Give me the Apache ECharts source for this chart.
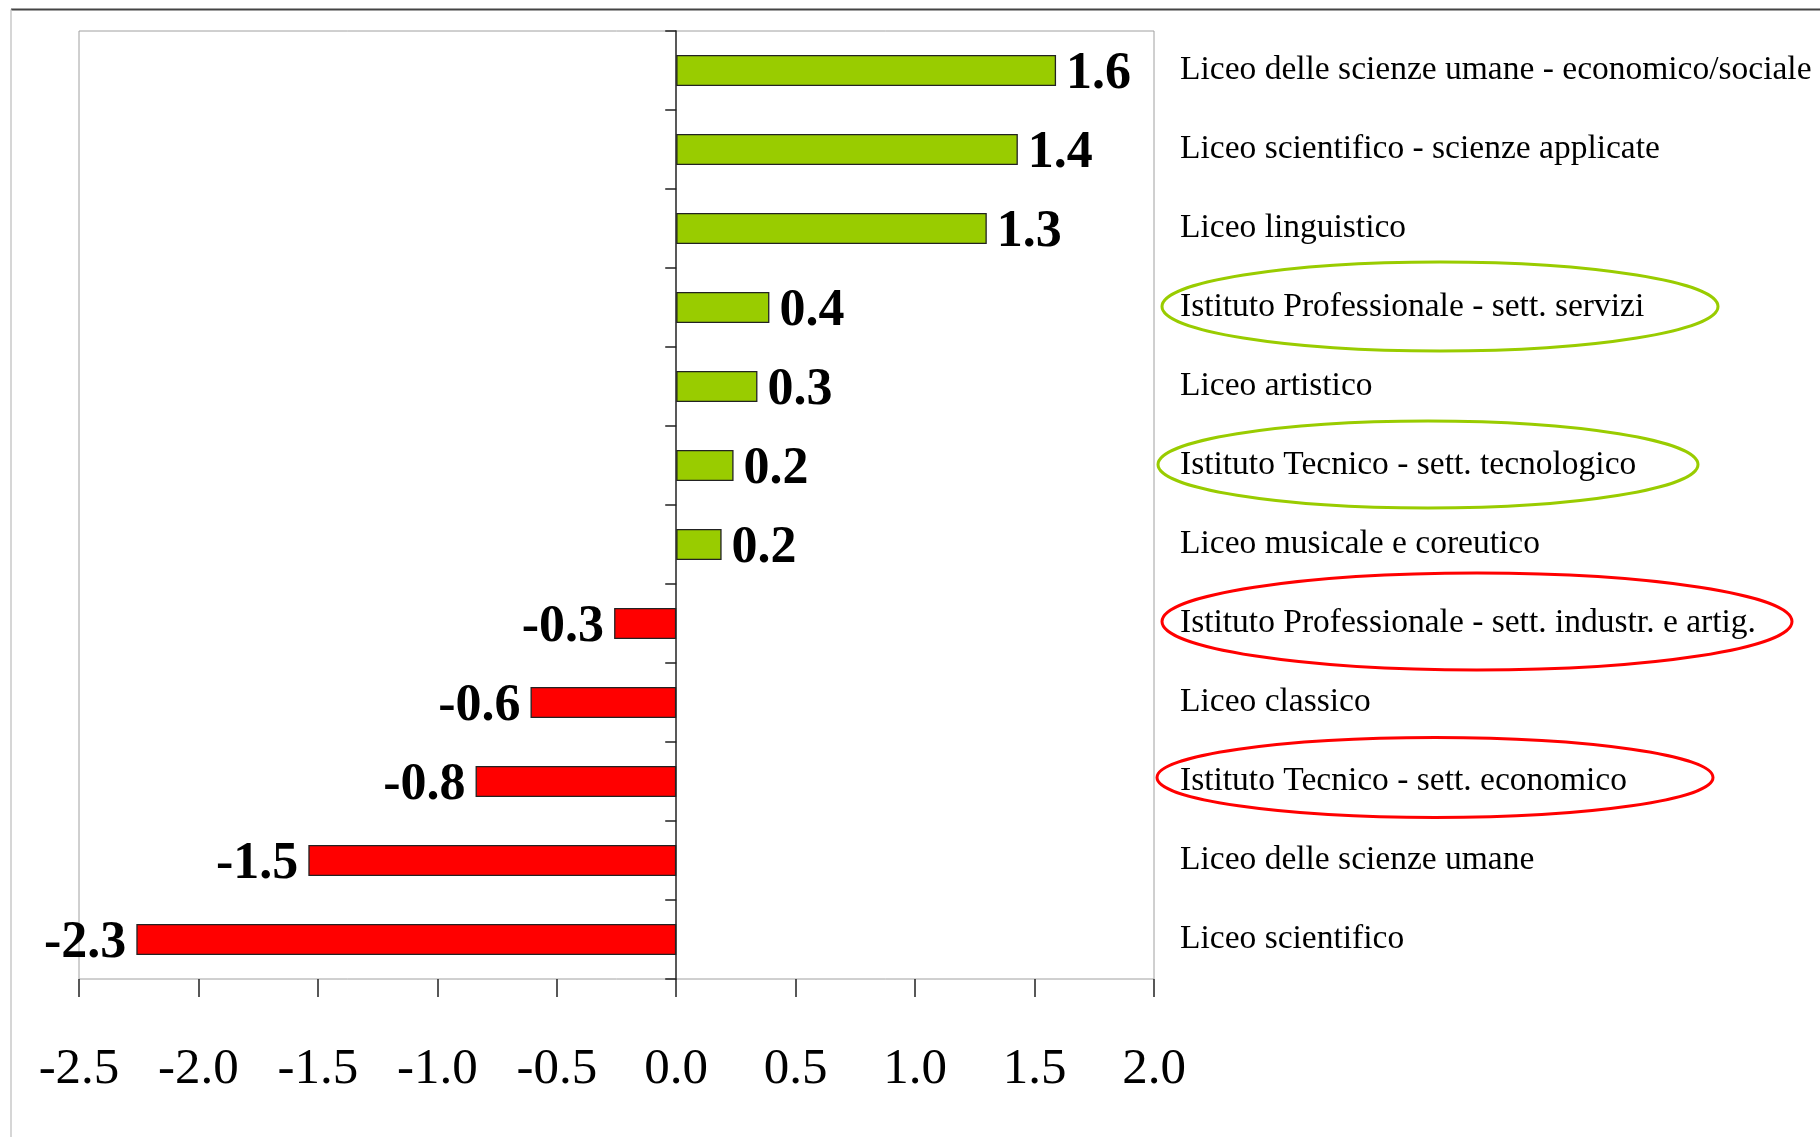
<!DOCTYPE html>
<html>
<head>
<meta charset="utf-8">
<script src="https://cdn.jsdelivr.net/npm/echarts@6/dist/echarts.min.js"></script>
<style>
html,body{margin:0;padding:0;background:#fff;}
#chart{width:1820px;height:1137px;}
</style>
</head>
<body>
<div id="chart"></div>
<script>
var categories = [
  'Liceo delle scienze umane - economico/sociale',
  'Liceo scientifico - scienze applicate',
  'Liceo linguistico',
  'Istituto Professionale - sett. servizi',
  'Liceo artistico',
  'Istituto Tecnico - sett. tecnologico',
  'Liceo musicale e coreutico',
  'Istituto Professionale - sett. industr. e artig.',
  'Liceo classico',
  'Istituto Tecnico - sett. economico',
  'Liceo delle scienze umane',
  'Liceo scientifico'
];
var values = [1.59, 1.43, 1.30, 0.39, 0.34, 0.24, 0.19, -0.26, -0.61, -0.84, -1.54, -2.26];
var xTicks = [-2.5, -2.0, -1.5, -1.0, -0.5, 0.0, 0.5, 1.0, 1.5, 2.0];
var highlightGreen = ['Istituto Professionale - sett. servizi', 'Istituto Tecnico - sett. tecnologico'];
var highlightRed = ['Istituto Professionale - sett. industr. e artig.', 'Istituto Tecnico - sett. economico'];

var GREEN = '#99cc00', RED = '#ff0000';
var FONT = '"Liberation Serif", "Times New Roman", serif';

var chart = echarts.init(document.getElementById('chart'), null, {renderer: 'canvas'});

var barData = values.map(function (v) {
  return {
    value: v,
    itemStyle: {color: v >= 0 ? GREEN : RED},
    label: {position: v >= 0 ? 'right' : 'left'}
  };
});

var option = {
  backgroundColor: '#ffffff',
  animation: false,
  grid: {
    left: 79, top: 31, width: 1075, height: 948,
    show: true, borderColor: '#a0a0a0', borderWidth: 1, backgroundColor: 'transparent'
  },
  xAxis: {
    type: 'value',
    min: xTicks[0], max: xTicks[xTicks.length - 1], interval: 0.5,
    position: 'bottom',
    axisLine: {onZero: false, lineStyle: {color: '#222', width: 2}},
    axisTick: {show: true, length: 18, lineStyle: {color: '#222', width: 1.5}},
    splitLine: {show: false},
    axisLabel: {
      margin: 65, fontFamily: FONT, fontSize: 51, color: '#000',
      formatter: function (v) { return v.toFixed(1); }
    }
  },
  yAxis: [{
    type: 'category', data: categories, inverse: true,
    axisLine: {onZero: true, lineStyle: {color: '#222', width: 1.5}},
    axisTick: {show: true, length: 11, inside: false, lineStyle: {color: '#222', width: 1.5}},
    axisLabel: {show: false},
    splitLine: {show: false}
  }, {
    type: 'category', data: categories, inverse: true, position: 'right',
    axisLine: {show: false}, axisTick: {show: false}, splitLine: {show: false},
    axisLabel: {margin: 26, fontFamily: FONT, fontSize: 33.5, color: '#000', align: 'left', padding: [9, 0, 0, 0]}
  }],
  series: [{
    type: 'bar',
    yAxisIndex: 0,
    data: barData,
    barWidth: 31,
    itemStyle: {borderColor: '#222', borderWidth: 1.3},
    label: {
      show: true, distance: 10, offset: [0, 4], fontFamily: FONT, fontSize: 52, fontWeight: 'bold', color: '#000',
      formatter: function (p) { return p.value.toFixed(1); }
    }
  }]
};
chart.setOption(option);

function ellipseFor(cat, color, cx, rx, ry, dy) {
  var cy = chart.convertToPixel({yAxisIndex: 1}, cat) + dy;
  return {
    type: 'ellipse', silent: true, z: 100,
    shape: {cx: cx, cy: cy, rx: rx, ry: ry},
    style: {fill: 'none', stroke: color, lineWidth: 3}
  };
}

var graphics = [
  {type: 'line', shape: {x1: 11, y1: 9.5, x2: 1820, y2: 9.5}, style: {stroke: '#444', lineWidth: 2}, silent: true},
  {type: 'line', shape: {x1: 11, y1: 9.5, x2: 11, y2: 1137}, style: {stroke: '#c8c8c8', lineWidth: 1.5}, silent: true},
  ellipseFor(highlightGreen[0], GREEN, 1440, 278, 44.5, -1),
  ellipseFor(highlightGreen[1], GREEN, 1428, 270, 43.5, -1),
  ellipseFor(highlightRed[0], RED, 1477, 315, 48.5, -2),
  ellipseFor(highlightRed[1], RED, 1435, 278, 40, -4)
];
chart.setOption({graphic: graphics});
</script>
</body>
</html>
